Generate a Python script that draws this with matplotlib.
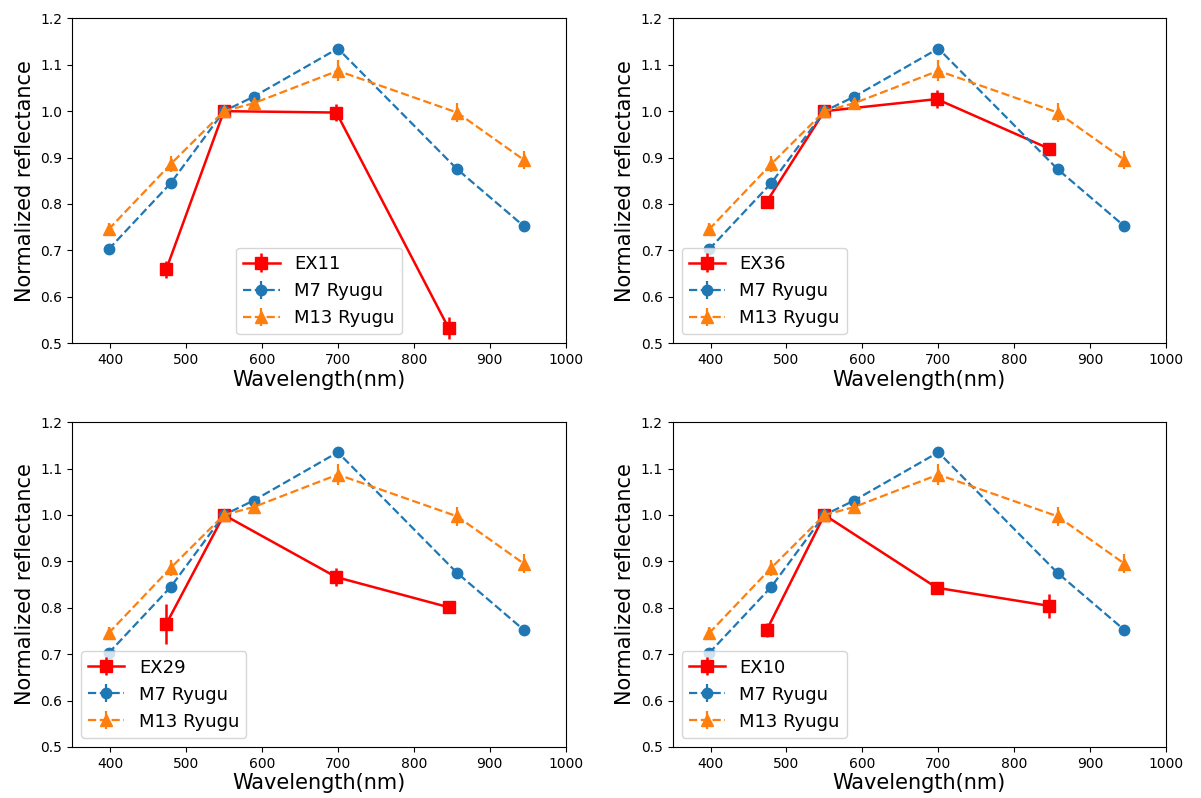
import numpy as np
import matplotlib
matplotlib.use("Agg")
import matplotlib.pyplot as plt

# Ryugu ONC-T band centres and normalized reflectance (v band = 1)
ryugu_wl = [398, 480, 550, 589, 700, 857, 945]
m7_refl = [0.702, 0.845, 1.000, 1.031, 1.135, 0.875, 0.752]
m7_err = [0.008, 0.006, 0.004, 0.005, 0.006, 0.006, 0.006]
m13_refl = [0.745, 0.886, 1.000, 1.017, 1.087, 0.997, 0.895]
m13_err = [0.014, 0.017, 0.008, 0.012, 0.023, 0.021, 0.020]

# Sample band centres
sample_wl = [474, 550, 698, 846]

ex11_refl = [0.659, 1.000, 0.997, 0.532]
ex11_err = [0.018, 0.006, 0.018, 0.024]
ex36_refl = [0.805, 1.000, 1.026, 0.919]
ex36_err = [0.006, 0.006, 0.020, 0.006]
ex29_refl = [0.765, 1.000, 0.866, 0.801]
ex29_err = [0.043, 0.006, 0.020, 0.010]
ex10_refl = [0.752, 1.000, 0.843, 0.804]
ex10_err = [0.016, 0.006, 0.006, 0.026]

samples = [
    ("EX11", ex11_refl, ex11_err, "lower center"),
    ("EX36", ex36_refl, ex36_err, "lower left"),
    ("EX29", ex29_refl, ex29_err, "lower left"),
    ("EX10", ex10_refl, ex10_err, "lower left"),
]

x_ticks = [400, 500, 600, 700, 800, 900, 1000]
y_ticks = [0.5, 0.6, 0.7, 0.8, 0.9, 1.0, 1.1, 1.2]

fig = plt.figure(figsize=(12.01, 7.98), dpi=100)
positions = [
    [0.060, 0.570, 0.411, 0.407],
    [0.560, 0.570, 0.411, 0.407],
    [0.060, 0.064, 0.411, 0.407],
    [0.560, 0.064, 0.411, 0.407],
]

for pos, (name, refl, err, loc) in zip(positions, samples):
    ax = fig.add_axes(pos)
    ax.errorbar(sample_wl, refl, yerr=err, color="red", marker="s",
                markersize=8.5, linestyle="-", linewidth=1.8, label=name)
    ax.errorbar(ryugu_wl, m7_refl, yerr=m7_err, color="#1f77b4", marker="o",
                markersize=7.5, linestyle="--", linewidth=1.6, label="M7 Ryugu")
    ax.errorbar(ryugu_wl, m13_refl, yerr=m13_err, color="#ff7f0e", marker="^",
                markersize=8.5, linestyle="--", linewidth=1.6, label="M13 Ryugu")
    ax.set_xlim(350, 1000)
    ax.set_ylim(0.5, 1.2)
    ax.set_xticks(x_ticks)
    ax.set_yticks(y_ticks)
    ax.set_yticklabels([f"{v:.1f}" for v in y_ticks])
    ax.tick_params(labelsize=10)
    ax.set_xlabel("Wavelength(nm)", fontsize=15, labelpad=2)
    ax.set_ylabel("Normalized reflectance", fontsize=15)
    ax.legend(loc=loc, fontsize=13)

fig.savefig("out.png", dpi=100)
